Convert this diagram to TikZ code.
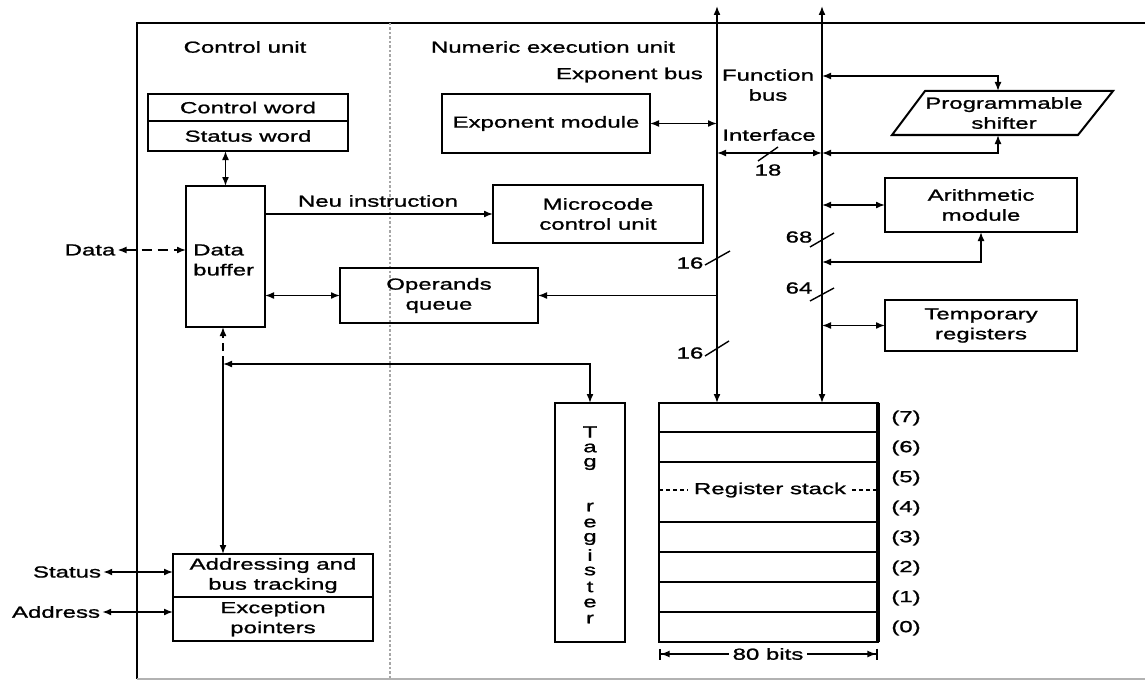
\documentclass[tikz,border=0pt]{standalone}
\usepackage{fontspec}
\setmainfont{Liberation Sans}[FakeStretch=1.5,FakeBold=1.2]
\usetikzlibrary{arrows.meta}
\begin{document}
\begin{tikzpicture}[x=1pt,y=-1pt,
  font=\fontsize{16}{20}\selectfont,
  >={Latex[length=9pt,width=7pt]},
  box/.style={draw, line width=2pt, inner sep=0pt, outer sep=0pt, align=center},
  lbl/.style={inner sep=2pt, align=center},
  conn/.style={line width=1.6pt},
  rowline/.style={line width=1.5pt},
  divider/.style={line width=1.8pt, gray!70, dash pattern=on 2.5pt off 2pt},
  slash/.style={line width=1.4pt}]
\useasboundingbox (0,0) rectangle (1145,682);

% frame and unit divider
\draw[line width=2.2pt] (1160,23) -- (137,23) -- (137,679);
\draw[line width=1.2pt, gray!60] (137,679) -- (1160,679);
\draw[divider] (390,23) -- (390,679);
\node[lbl] (cu) at (245,47) {Control unit};
\node[lbl] (neu) at (553,47) {Numeric execution unit};

% control unit blocks
\node[box, minimum width=200pt, minimum height=27pt] (cword) at (248,107.5) {Control word};
\node[box, minimum width=200pt, minimum height=30pt] (sword) at (248,136) {Status word};
\node[box, minimum width=79pt, minimum height=141pt] (buf) at (225.5,256.5) {};
\node[lbl, anchor=west, align=left] (buftext) at (191,260) {Data\\buffer};
\node[box, minimum width=200pt, minimum height=43pt] (addr) at (273,575.5) {Addressing and\\bus tracking};
\node[box, minimum width=200pt, minimum height=44pt] (excp) at (273,619) {Exception\\pointers};

% numeric execution unit blocks
\node[box, minimum width=208pt, minimum height=59pt] (expm) at (546,123.5) {Exponent module};
\node[box, minimum width=210pt, minimum height=58pt] (micro) at (598,214) {Microcode\\control unit};
\node[box, minimum width=198pt, minimum height=55pt] (opq) at (439,295.5) {Operands\\queue};
\node[box, minimum width=192pt, minimum height=54pt] (arith) at (981,205) {Arithmetic\\module};
\node[box, minimum width=192pt, minimum height=51pt] (temp) at (981,325.5) {Temporary\\registers};
\node[box, minimum width=70pt, minimum height=239pt] (tag) at (590,522.5) {};
\node[box, minimum width=219pt, minimum height=239pt] (stack) at (768.5,522.5) {};

% programmable shifter (parallelogram)
\coordinate (sTL) at (925,91);
\coordinate (sTR) at (1113,91);
\coordinate (sBR) at (1078,135);
\coordinate (sBL) at (892,135);
\coordinate (sTop) at (998,91);
\coordinate (sBot) at (998,135);
\draw[line width=2pt] (sTL) -- (sTR) -- (sBR) -- (sBL) -- cycle;
\node[lbl] (shifter) at (1004,113) {Programmable\\shifter};

% tag register lettering
\foreach \ch/\yy [count=\i] in {T/432,a/448,g/464,r/507,e/523,g/539,i/555,s/571,t/587,e/603,r/619}
  \node[inner sep=0pt] (tagl\i) at (590,\yy) {\ch};

% register stack rows
\foreach \yy in {432,462,522,552,582,612}
  \draw[rowline] (stack.west |- 0,\yy) -- (stack.east |- 0,\yy);
\draw[line width=4pt] (stack.north east) -- (stack.south east);
\node[lbl, inner sep=6pt] (rs) at (770,490) {Register stack};
\draw[line width=1.2pt, dash pattern=on 4pt off 3pt] (stack.west |- rs.west) -- (rs.west);
\draw[line width=1.2pt, dash pattern=on 4pt off 3pt] (rs.east) -- (rs.east -| stack.east);
\foreach \n/\yy in {7/418,6/448,5/478,4/508,3/538,2/568,1/598,0/628}
  \node[lbl] (r\n) at (906,\yy) {(\n)};
\coordinate (bL) at (659,654);
\coordinate (bR) at (878,654);
\draw[conn, {Bar[width=11pt,line width=1.6pt]Latex[length=9pt,width=7pt]}-{Latex[length=9pt,width=7pt]Bar[width=11pt,line width=1.6pt]}] (bL) -- (bR);
\node[fill=white, inner sep=4pt] (bits) at (768,654) {80 bits};

% buses
\coordinate (ebT) at (717,6);
\coordinate (fbT) at (822,6);
\draw[conn, <->] (ebT) -- (ebT |- stack.north);
\draw[conn, <->] (fbT) -- (fbT |- stack.north);
\node[lbl, anchor=east] (eblbl) at (705,75) {Exponent bus};
\node[lbl, align=center] (fblbl) at (768,85) {Function\\bus};
\node[lbl] (iflbl) at (769,135) {Interface};

% interface between the buses
\coordinate (ifc) at (717,153);
\coordinate (fsh2) at (822,153);
\coordinate (fsh) at (822,76);
\draw[conn, <->] (ifc) -- (fsh2);
\draw[slash] (758,161) -- (778,147);
\node[lbl] (n18) at (768,170) {18};
\draw[conn, <->] (fsh) -| (sTop);
\draw[conn, <->] (fsh2) -| (sBot);

% exponent bus connections
\draw[conn, <->] (expm.east) -- (expm.east -| ebT);
\draw[conn, ->] (opq.east -| ebT) -- (opq.east);
\draw[slash] (705,265) -- (730,251);
\node[lbl] (n16a) at (690,263) {16};
\draw[slash] (705,356) -- (729,341);
\node[lbl] (n16b) at (690,353) {16};

% function bus connections
\draw[conn, <->] (arith.west -| fbT) -- (arith.west);
\coordinate (aret) at (822,262);
\draw[conn, <->] (aret) -| (arith.south);
\draw[conn, <->] (temp.west -| fbT) -- (temp.west);
\draw[slash] (810,247) -- (834,233);
\node[lbl] (n68) at (799,237) {68};
\draw[slash] (810,301) -- (834,288);
\node[lbl] (n64) at (799,288) {64};

% control unit connections
\draw[conn, <->] (buf.north |- sword.south) -- (buf.north);
\draw[conn, ->] (buf.east |- micro.west) -- (micro.west);
\node[lbl] (neuinst) at (378,201) {Neu instruction};
\draw[conn, <->] (buf.east |- opq.west) -- (opq.west);
\coordinate (jn) at (223,364);
\draw[conn, ->, dash pattern=on 8pt off 5pt] (jn) -- (jn |- buf.south);
\draw[conn, ->] (jn) -- (jn |- addr.north);
\draw[conn, <->] (jn) -| (tag.north);

% external signals
\node[lbl] (data) at (90,250) {Data};
\draw[conn, <->, dash pattern=on 10pt off 6pt] (data.east) -- (data.east -| buf.west);
\node[lbl] (status) at (67,572) {Status};
\draw[conn, <->] (status.east) -- (status.east -| addr.west);
\node[lbl] (address) at (56,612) {Address};
\draw[conn, <->] (address.east) -- (address.east -| excp.west);
\end{tikzpicture}
\end{document}
